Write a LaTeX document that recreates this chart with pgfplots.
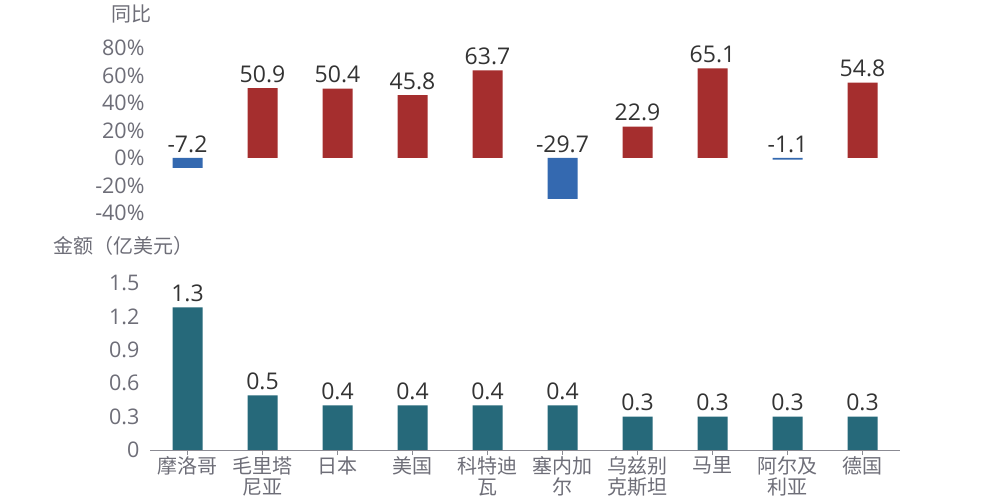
\documentclass[border=0pt]{standalone}
\usepackage{pgfplots}
\pgfplotsset{compat=1.18}
\usepackage{fontspec}
\setmainfont{Open Sans}
\newfontfamily\cjk{Noto Sans CJK SC}
\definecolor{cred}{RGB}{165,46,46}
\definecolor{cblue}{RGB}{52,105,176}
\definecolor{cteal}{RGB}{38,105,122}
\definecolor{tgray}{RGB}{110,110,120}
\definecolor{vtext}{RGB}{51,51,51}
\begin{document}
\begin{tikzpicture}
\path[use as bounding box, fill=white] (0,0) rectangle (1000pt,500pt);
\pgfplotsset{
  base/.style={
    scale only axis, width=750pt, xmin=-0.5, xmax=9.5,
    /pgf/number format/assume math mode=true,
    ybar, bar width=30pt,
    tick label style={font=\fontsize{21.5}{22}\selectfont, text=tgray},
    yticklabel style={xshift=-2pt},
    nodes near coords style={font=\fontsize{23}{24}\selectfont, text=vtext, anchor=south, yshift=2pt},
    nodes near coords={\pgfmathprintnumber[fixed,precision=1,fixed zerofill]{\pgfplotspointmeta}},
  }
}
% top panel
\begin{axis}[base, at={(150pt,287pt)}, anchor=south west, height=165pt,
  ymin=-40, ymax=80, ytick={-40,-20,...,80},
  yticklabel={\pgfmathprintnumber{\tick}\%},
  hide x axis, axis y line*=left, y axis line style={draw=none},
  ytick style={draw=none}, clip=false]
\addplot[fill=cred, draw=none, bar shift=0pt] coordinates {(1,50.9)(2,50.4)(3,45.8)(4,63.7)(6,22.9)(7,65.1)(9,54.8)};
\addplot[fill=cblue, draw=none, bar shift=0pt, nodes near coords={}] coordinates {(0,-7.2)(5,-29.7)(8,-1.1)};
\addplot[draw=none, fill=none, bar shift=0pt, point meta=explicit] coordinates {(0,0)[-7.2] (5,0)[-29.7] (8,0)[-1.1]};
\end{axis}
% bottom panel
\begin{axis}[base, at={(150pt,50pt)}, anchor=south west, height=167pt,
  ymin=0, ymax=1.5, ytick={0,0.3,0.6,0.9,1.2,1.5},
  yticklabels={0,0.3,0.6,0.9,1.2,1.5},
  xtick={0,...,9},
  xticklabels={摩洛哥,毛里塔\\尼亚,日本,美国,科特迪\\瓦,塞内加\\尔,乌兹别\\克斯坦,马里,阿尔及\\利亚,德国},
  xticklabel style={font=\cjk\fontsize{20}{21}\selectfont, align=center, text=tgray, yshift=2pt},
  axis x line*=bottom, axis y line*=left,
  x axis line style={draw=tgray!80, -}, y axis line style={draw=none},
  ytick style={draw=none}, xtick style={draw=tgray!80}, tick align=outside,
  major tick length=5pt, clip=false]
\addplot[fill=cteal, draw=none, bar shift=0pt] coordinates {(0,1.28)(1,0.49)(2,0.4)(3,0.4)(4,0.4)(5,0.4)(6,0.3)(7,0.3)(8,0.3)(9,0.3)};
\end{axis}
\node[font=\cjk\fontsize{20}{21}\selectfont, text=tgray] at (131pt,486pt) {同比};
\node[font=\cjk\fontsize{20}{21}\selectfont, text=tgray] at (123pt,254pt) {金额（亿美元）};
\end{tikzpicture}
\end{document}
